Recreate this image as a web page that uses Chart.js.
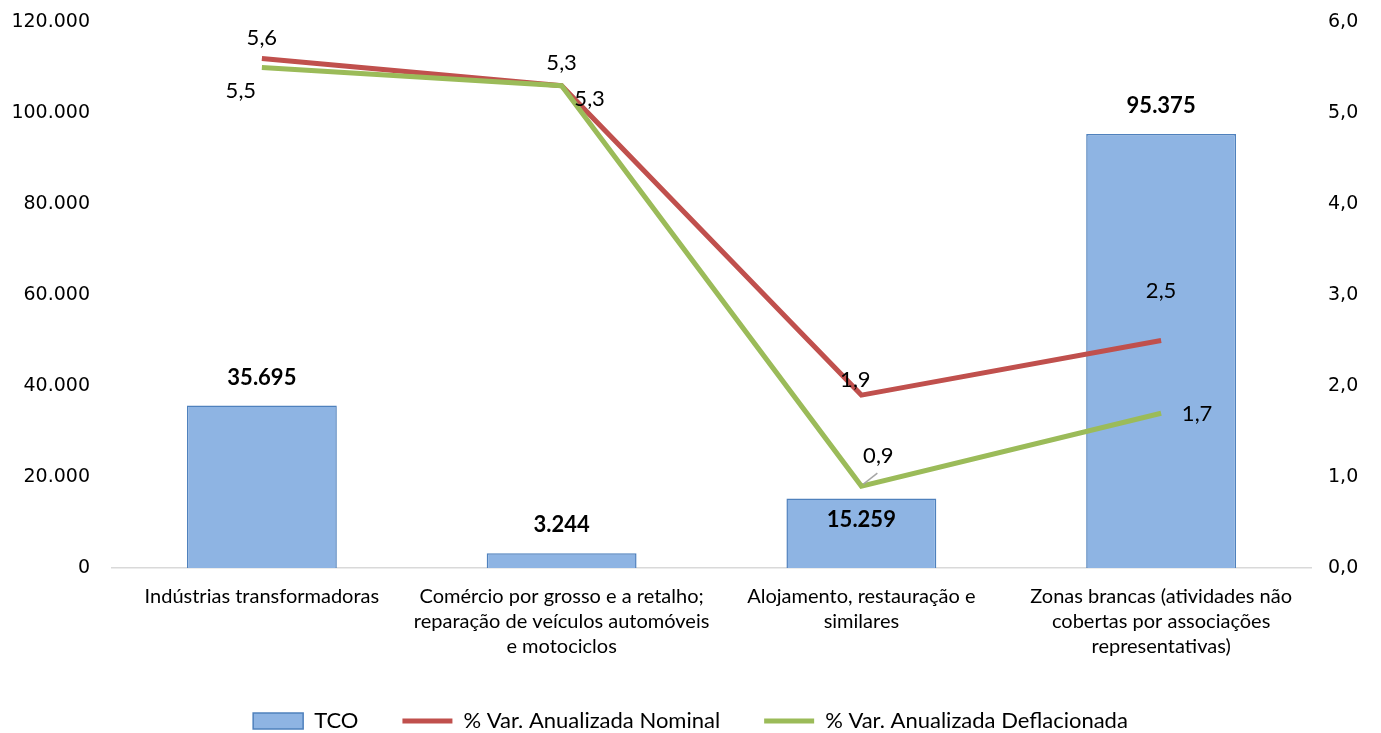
<!DOCTYPE html>
<html>
<head>
<meta charset="utf-8">
<script src="https://cdn.jsdelivr.net/npm/chart.js@4.4.1/dist/chart.umd.min.js"></script>
<style>
html,body{margin:0;padding:0;background:#fff;}
#wrap{width:1381px;height:733px;position:relative;}
</style>
</head>
<body>
<div id="wrap"><canvas id="c"></canvas></div>
<script>
const categories = [
  ["Indústrias transformadoras"],
  ["Comércio por grosso e a retalho;", "reparação de veículos automóveis", "e motociclos"],
  ["Alojamento, restauração e", "similares"],
  ["Zonas brancas (atividades não", "cobertas por associações", "representativas)"]
];
const tcoValues = [35695, 3244, 15259, 95375];
const nominalValues = [5.6, 5.3, 1.9, 2.5];
const deflatedValues = [5.5, 5.3, 0.9, 1.7];
const seriesNames = ["TCO", "% Var. Anualizada Nominal", "% Var. Anualizada Deflacionada"];

const fmtThousands = v => Math.round(v).toString().replace(/\B(?=(\d{3})+(?!\d))/g, ".");
const fmtDec = v => v.toFixed(1).replace(".", ",");

// label offsets (styling) relative to each point
const labelOffsets = {
  0: [[0,-28],[0,-28],[0,21],[0,-28]],
  1: [[0,-20],[0,-23],[-6,-15],[0,-50]],
  2: [[-21,23],[28,13],[17,-30],[36,1]]
};

const labelPlugin = {
  id: 'labels',
  afterDatasetsDraw(chart) {
    const ctx = chart.ctx;
    ctx.save();
    ctx.textAlign = 'center';
    ctx.textBaseline = 'middle';
    ctx.fillStyle = '#000';
    chart.data.datasets.forEach((ds, di) => {
      const meta = chart.getDatasetMeta(di);
      meta.data.forEach((el, i) => {
        const [dx, dy] = labelOffsets[di][i];
        const x = el.x + dx, y = el.y + dy;
        if (di === 0) {
          ctx.font = 'bold 22px Lato';
          ctx.fillText(fmtThousands(ds.data[i]), x, y);
        } else {
          if (di === 2 && i === 2) {
            ctx.strokeStyle = '#a6a6a6';
            ctx.lineWidth = 1.5;
            ctx.beginPath();
            ctx.moveTo(el.x + 2, el.y - 2);
            ctx.lineTo(el.x + 16, el.y - 13);
            ctx.stroke();
          }
          ctx.font = '22px Lato';
          ctx.fillText(fmtDec(ds.data[i]), x, y);
        }
      });
    });
    ctx.restore();
  }
};

new Chart(document.getElementById('c'), {
  data: {
    labels: categories,
    datasets: [
      {
        type: 'bar', label: seriesNames[0], data: tcoValues, yAxisID: 'y',
        backgroundColor: '#8EB4E3', borderColor: '#4F81BD', borderWidth: 1.5,
        categoryPercentage: 1, barPercentage: 0.5, order: 3, pointStyle: 'rect'
      },
      {
        type: 'line', label: seriesNames[1], data: nominalValues, yAxisID: 'y1',
        borderColor: '#C0504D', backgroundColor: '#C0504D', borderWidth: 5,
        pointRadius: 0, tension: 0, order: 2, pointStyle: 'line'
      },
      {
        type: 'line', label: seriesNames[2], data: deflatedValues, yAxisID: 'y1',
        borderColor: '#9BBB59', backgroundColor: '#9BBB59', borderWidth: 5,
        pointRadius: 0, tension: 0, order: 1, pointStyle: 'line'
      }
    ]
  },
  options: {
    responsive: true, maintainAspectRatio: false, animation: false,
    layout: { padding: { top: 0, left: 0, right: 0, bottom: 0 } },
    plugins: {
      tooltip: { enabled: false },
      legend: {
        position: 'bottom',
        maxHeight: 67,
        labels: {
          usePointStyle: true, pointStyleWidth: 50, boxHeight: 16,
          padding: 44, color: '#000',
          font: { family: 'Lato', size: 22 },
          sort: (a, b) => a.datasetIndex - b.datasetIndex
        }
      }
    },
    scales: {
      x: {
        grid: { display: false, drawTicks: false },
        border: { display: true, color: '#d9d9d9', width: 1.5 },
        ticks: { color: '#000', font: { family: 'Lato', size: 20, lineHeight: 1.25 }, padding: 16, maxRotation: 0, autoSkip: false },
        afterFit(s) { s.height = 98; }
      },
      y: {
        position: 'left', min: 0, max: 120000,
        grid: { display: false, drawTicks: false },
        border: { display: false },
        ticks: { stepSize: 20000, color: '#000', font: { family: 'DejaVu Sans', size: 19 }, padding: 22, callback: v => fmtThousands(v) },
        afterFit(s) { s.width = 112; s.paddingTop = 22; }
      },
      y1: {
        position: 'right', min: 0, max: 6,
        grid: { display: false, drawTicks: false },
        border: { display: false },
        ticks: { stepSize: 1, color: '#000', font: { family: 'DejaVu Sans', size: 19 }, padding: 17, callback: v => fmtDec(v) },
        afterFit(s) { s.width = 70; s.paddingTop = 22; }
      }
    }
  },
  plugins: [labelPlugin]
});
</script>
</body>
</html>
